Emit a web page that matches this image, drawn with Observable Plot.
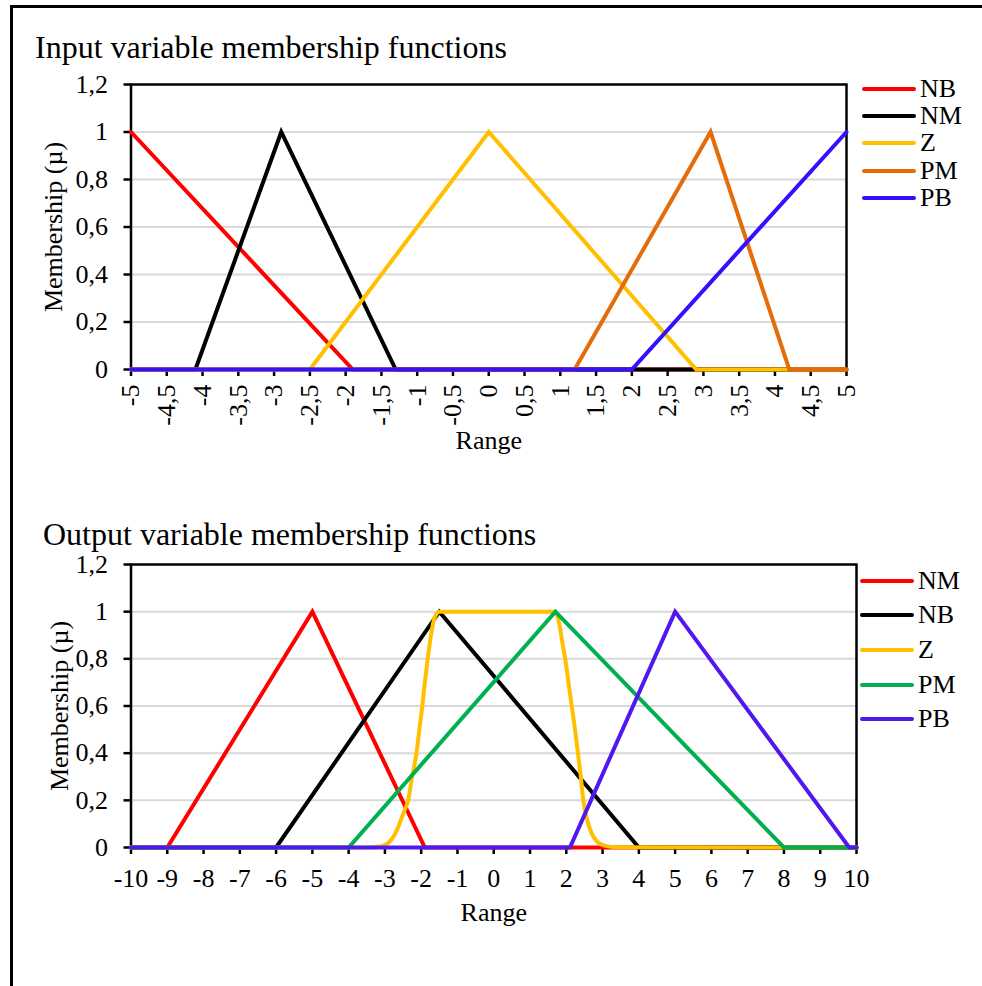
<!DOCTYPE html>
<html>
<head>
<meta charset="utf-8">
<script src="https://cdn.jsdelivr.net/npm/d3@7"></script>
<script src="https://cdn.jsdelivr.net/npm/@observablehq/plot@0.6"></script>
<style>
  body { margin: 0; background: #fff; }
  #page { position: relative; width: 982px; height: 986px; overflow: hidden;
          font-family: 'Liberation Serif', 'Times New Roman', serif; color: #000; background: #fff; }
  .chart { position: absolute; left: 0; }
  .title { position: absolute; font-size: 32px; line-height: 32px; white-space: nowrap; z-index: 2; }
  .leg-line { position: absolute; height: 4px; border-radius: 2px; z-index: 2; }
  .leg-text { position: absolute; font-size: 26px; line-height: 26px; white-space: nowrap; z-index: 2; }
  #border { position: absolute; left: 10px; top: 5px; width: 972px; height: 981px;
            border-top: 3px solid #000; border-left: 3px solid #000; box-sizing: border-box; z-index: 3; }
</style>
</head>
<body>
<div id="page"><div id="border"></div></div>
<script>
// ---------- text ----------
const inputTitle = "Input variable membership functions";
const outputTitle = "Output variable membership functions";
const yAxisTitle = "Membership (µ)";
const xAxisTitle = "Range";

// ---------- ticks ----------
const yTicks = [0, 0.2, 0.4, 0.6, 0.8, 1, 1.2];
const yTickLabels = ["0", "0,2", "0,4", "0,6", "0,8", "1", "1,2"];
const inTicks = [-5, -4.5, -4, -3.5, -3, -2.5, -2, -1.5, -1, -0.5, 0, 0.5, 1, 1.5, 2, 2.5, 3, 3.5, 4, 4.5, 5];
const inTickLabels = ["-5", "-4,5", "-4", "-3,5", "-3", "-2,5", "-2", "-1,5", "-1", "-0,5", "0", "0,5", "1", "1,5", "2", "2,5", "3", "3,5", "4", "4,5", "5"];
const outTicks = [-10, -9, -8, -7, -6, -5, -4, -3, -2, -1, 0, 1, 2, 3, 4, 5, 6, 7, 8, 9, 10];
const outTickLabels = ["-10", "-9", "-8", "-7", "-6", "-5", "-4", "-3", "-2", "-1", "0", "1", "2", "3", "4", "5", "6", "7", "8", "9", "10"];

// ---------- input variable series ----------
const inNames = ["NB", "NM", "Z", "PM", "PB"];
const inNB_x = [-5, -1.9, 5];
const inNB_y = [1, 0, 0];
const inNM_x = [-5, -4.1, -2.9, -1.3, 5];
const inNM_y = [0, 0, 1, 0, 0];
const inZ_x = [-5, -2.5, 0, 2.9, 5];
const inZ_y = [0, 0, 1, 0, 0];
const inPM_x = [-5, 1.2, 3.1, 4.2, 5];
const inPM_y = [0, 0, 1, 0, 0];
const inPB_x = [-5, 2, 5];
const inPB_y = [0, 0, 1];

// ---------- output variable series ----------
const outNames = ["NM", "NB", "Z", "PM", "PB"];
const outNM_x = [-10, -9, -5, -1.9, 10];
const outNM_y = [0, 0, 1, 0, 0];
const outNB_x = [-10, -6, -1.5, 4, 10];
const outNB_y = [0, 0, 1, 0, 0];
const outZ_x = [-10, -3.4, -3.1, -2.9, -2.75, -2.6, -2.48, -2.36, -2.25, -2.13, -2.05, -1.97, -1.9, -1.82, -1.73, -1.66, -1.58, -1.5,
                1.7, 1.76, 1.84, 1.9, 1.97, 2.06, 2.15, 2.24, 2.32, 2.4, 2.47, 2.57, 2.7, 2.85, 3.05, 3.4, 10];
const outZ_y = [0, 0, 0.005, 0.02, 0.05, 0.1, 0.15, 0.2, 0.3, 0.4, 0.5, 0.6, 0.7, 0.8, 0.9, 0.96, 0.99, 1,
                1, 0.98, 0.92, 0.86, 0.8, 0.7, 0.6, 0.5, 0.4, 0.3, 0.2, 0.12, 0.06, 0.025, 0.008, 0.001, 0];
const outPM_x = [-10, -4, 1.7, 8, 10];
const outPM_y = [0, 0, 1, 0, 0];
const outPB_x = [-10, 2.1, 5, 9.8, 10];
const outPB_y = [0, 0, 1, 0, 0];

// ---------- styles ----------
const inColors = ["#FF0000", "#000000", "#FFC000", "#E46C0A", "#3311FF"];
const outColors = ["#FF0000", "#000000", "#FFC000", "#00B050", "#5018EE"];
const FONT = "'Liberation Serif', 'Times New Roman', serif";

const inSeries = [[inNB_x, inNB_y], [inNM_x, inNM_y], [inZ_x, inZ_y], [inPM_x, inPM_y], [inPB_x, inPB_y]];
const outSeries = [[outNM_x, outNM_y], [outNB_x, outNB_y], [outZ_x, outZ_y], [outPM_x, outPM_y], [outPB_x, outPB_y]];

function makeChart(cfg) {
  const marks = [
    Plot.gridY(yTicks.filter(d => d > 0 && d < 1.2), {stroke: "#d9d9d9", strokeOpacity: 1, strokeWidth: 2}),
    Plot.frame({stroke: "#000", strokeWidth: 2.5}),
    Plot.axisY({ticks: yTicks, tickFormat: d => yTickLabels[yTicks.indexOf(d)], tickSize: 7, tickPadding: 16,
                fontSize: 26, strokeWidth: 2.5, label: null}),
    Plot.axisX({ticks: cfg.ticks, tickFormat: d => cfg.tickLabels[cfg.ticks.indexOf(d)], tickSize: 7,
                tickPadding: cfg.tickPadding, tickRotate: cfg.tickRotate, fontSize: 26, strokeWidth: 2.5, label: null}),
    Plot.text([xAxisTitle], {frameAnchor: "bottom", text: d => d, dy: cfg.xTitleDy, lineAnchor: "bottom", fontSize: 26}),
    Plot.text([yAxisTitle], {frameAnchor: "left", text: d => d, dx: cfg.yTitleDx, rotate: -90, textAnchor: "middle",
                             lineAnchor: "middle", fontSize: 26})
  ];
  cfg.series.forEach(([xs, ys], i) => {
    marks.push(Plot.line(xs, {x: xs, y: ys, stroke: cfg.colors[i], strokeWidth: 4,
      strokeLinejoin: "miter", strokeMiterlimit: 4, strokeLinecap: "round",
      curve: cfg.curves && cfg.curves[i] ? cfg.curves[i] : "linear"}));
  });
  const svg = Plot.plot({
    width: 982,
    height: cfg.height,
    marginLeft: 130.5,
    marginRight: cfg.marginRight,
    marginTop: cfg.marginTop,
    marginBottom: cfg.marginBottom,
    x: {domain: cfg.domain},
    y: {domain: [0, 1.2]},
    style: {fontFamily: FONT, fontSize: "26px", background: "transparent", overflow: "visible", color: "#000"},
    marks
  });
  svg.classList.add("chart");
  svg.style.top = cfg.top + "px";
  return svg;
}

const page = document.getElementById("page");

page.appendChild(makeChart({
  top: 0, height: 470, marginTop: 84, marginBottom: 101, marginRight: 136,
  domain: [-5, 5], ticks: inTicks, tickLabels: inTickLabels, tickRotate: -90, tickPadding: 8,
  xTitleDy: 79, yTitleDx: -77, series: inSeries, colors: inColors
}));

page.appendChild(makeChart({
  top: 470, height: 516, marginTop: 94, marginBottom: 139, marginRight: 126,
  domain: [-10, 10], ticks: outTicks, tickLabels: outTickLabels, tickRotate: 0, tickPadding: 14,
  xTitleDy: 73, yTitleDx: -71, series: outSeries, colors: outColors,
  curves: [null, null, "monotone-x", null, null]
}));

function addTitle(text, left, top) {
  const d = document.createElement("div");
  d.className = "title";
  d.style.left = left + "px";
  d.style.top = top + "px";
  d.textContent = text;
  page.appendChild(d);
}
addTitle(inputTitle, 35, 31);
addTitle(outputTitle, 43, 518);

function addLegend(names, colors, lineLeft, textLeft, y0, step) {
  names.forEach((n, i) => {
    const y = y0 + step * i;
    const l = document.createElement("div");
    l.className = "leg-line";
    l.style.left = lineLeft + "px";
    l.style.width = "54px";
    l.style.top = (y - 2) + "px";
    l.style.background = colors[i];
    page.appendChild(l);
    const t = document.createElement("div");
    t.className = "leg-text";
    t.style.left = textLeft + "px";
    t.style.top = (y - 13) + "px";
    t.textContent = n;
    page.appendChild(t);
  });
}
addLegend(inNames, inColors, 862, 920, 88.7, 27.35);
addLegend(outNames, outColors, 860, 918, 580.7, 34.6);
</script>
</body>
</html>
